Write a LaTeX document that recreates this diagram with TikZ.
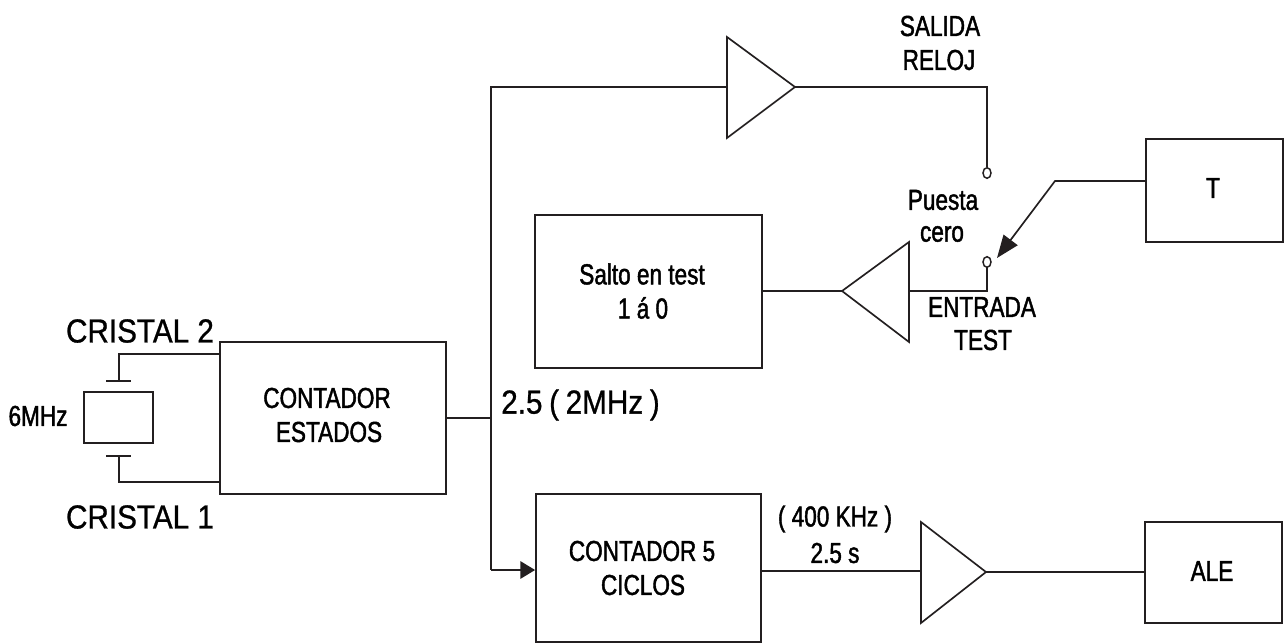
\documentclass[tikz,border=0pt]{standalone}
\usepackage{fontspec}
\setmainfont[FakeStretch=0.78,FakeBold=1.5]{Liberation Sans}
\newfontfamily\bigfont[FakeStretch=0.89,FakeBold=0.8]{Liberation Sans}
\usetikzlibrary{arrows.meta,shapes.geometric}
\definecolor{ink}{HTML}{231F20}
\tikzset{
  x=0.75pt,y=-0.75pt,
  wire/.style={draw=ink,line width=1.25pt},
  blockbox/.style={draw=ink,line width=1.35pt,fill=white,minimum width=0pt,inner sep=0pt},
  lab/.style={inner sep=0pt,align=center,text=black,font=\fontsize{21.7}{21.7}\selectfont},
  biglab/.style={inner sep=0pt,text=black,font=\bigfont\fontsize{25}{25}\selectfont},
  port/.style={ellipse,draw=ink,line width=1.1pt,fill=white,minimum width=6pt,minimum height=8pt,inner sep=0pt},
  buf/.style={draw=ink,line width=1.25pt,line join=miter,fill=white}
}
\newcommand{\boxnode}[5]{\node[blockbox,minimum width=#4*0.75pt,minimum height=#5*0.75pt] (#1) at (#2,#3) {};}
\begin{document}
\begin{tikzpicture}
\useasboundingbox (0,0) rectangle (1287,642);
\fill[white] (0,0) rectangle (1287,642);
% blocks
\boxnode{estados}{333}{418}{226}{152}
\boxnode{salto}{648.5}{291.5}{227}{153}
\boxnode{ciclos}{648.5}{568}{225}{148}
\boxnode{tbox}{1214.5}{190.5}{137}{103}
\boxnode{ale}{1213.5}{572.5}{137}{101}
\node[blockbox,minimum width=69*0.75pt,minimum height=51*0.75pt] (xtal) at (118.5,417.5) {};
% crystal plates and pins
\coordinate (p2) at (119,381);
\coordinate (p1) at (119,456);
\coordinate (p2l) at (106,381);\coordinate (p2r) at (131,381);
\coordinate (p1l) at (106,456);\coordinate (p1r) at (131,456);
\draw[wire] (p2l) -- (p2r);
\draw[wire] (p1l) -- (p1r);
\draw[wire] (p2) |- (estados.west |- 0,354);
\draw[wire] (p1) |- (estados.west |- 0,482);
% bus
\coordinate (bustop) at (491,87);
\coordinate (busmid) at (491,418);
\coordinate (busbot) at (491,570);
% buffers
\coordinate (b1in) at (727,87); \coordinate (b1out) at (795,87);
\coordinate (b2in) at (909,291); \coordinate (b2out) at (842,291);
\coordinate (b3in) at (921,571); \coordinate (b3out) at (986,572);
\draw[wire] (estados.east |- busmid) -- (busmid);
\draw[wire] (b1in) -- (bustop) -- (busbot);
\draw[wire,-{Triangle[length=11pt,width=13pt]}] (busbot) -- (ciclos.west |- busbot);
\draw[buf] (727,37) -- (b1out) -- (727,138) -- cycle;
\draw[buf] (909,242) -- (b2out) -- (909,342) -- cycle;
\draw[buf] (921,522) -- (b3out) -- (921,623) -- cycle;
% ports
\node[port] (pa) at (987,173) {};
\node[port] (pb) at (987,262) {};
\draw[wire] (b1out) -| (pa.north);
\draw[wire] (b2in) -| (pb.south);
\draw[wire] (salto.east |- b2out) -- (b2out);
\draw[wire] (ciclos.east |- b3in) -- (b3in);
\draw[wire] (b3out) -- (ale.west |- b3out);
\coordinate (bend) at (1055,181);
\draw[wire,-{Triangle[length=17pt,width=13pt]}] (tbox.west |- bend) -- (bend) -- (997,258);
% labels
\node[lab] (n1) at (327,398) {CONTADOR};
\node[lab] (n2) at (329,432) {ESTADOS};
\node[lab] (n3) at (642,274) {Salto en test};
\node[lab] (n4) at (643,308) {1 á 0};
\node[lab] (n5) at (642,551) {CONTADOR 5};
\node[lab] (n6) at (643,585) {CICLOS};
\node[lab] (n7) at (835,519) {( 400 KHz )};
\node[lab] (n8) at (835,553) {2.5 s};
\node[lab] (n9) at (1212,571) {ALE};
\node[lab] (n10) at (1213,188) {T};
\node[lab] (n11) at (940,26) {SALIDA};
\node[lab] (n12) at (939,60) {RELOJ};
\node[lab] (n13) at (943,200) {Puesta};
\node[lab] (n14) at (942,234) {cero};
\node[lab] (n15) at (982,307) {ENTRADA};
\node[lab] (n16) at (983,340) {TEST};
\node[lab] (n17) at (38,416) {6MHz};
\node[biglab] (n18) at (140,331) {CRISTAL 2};
\node[biglab] (n19) at (140,517) {CRISTAL 1};
\node[biglab,anchor=west] (n20) at (501,405) {\spaceskip=0.2em 2.5 ( 2MHz )};
\end{tikzpicture}
\end{document}
